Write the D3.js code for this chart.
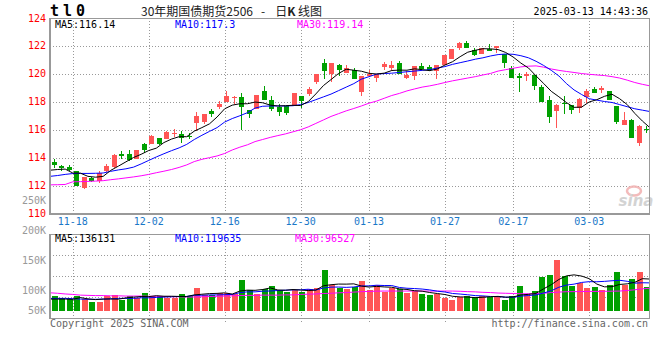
<!DOCTYPE html>
<html>
<head>
<meta charset="utf-8">
<script src="https://cdn.jsdelivr.net/npm/d3@7"></script>
<style>
  body { margin: 0; background: #fff; }
  svg text { font-family: "DejaVu Sans Mono", monospace; font-size: 10px; }
</style>
</head>
<body>
<div id="chart"></div>
<script>
// trading days shown on the chart
const dates = ["11-13","11-14","11-15","11-18","11-19","11-20","11-21","11-22","11-25","11-26",
  "11-27","11-28","11-29","12-02","12-03","12-04","12-05","12-06","12-09","12-10",
  "12-11","12-12","12-13","12-16","12-17","12-18","12-19","12-20","12-23","12-24",
  "12-25","12-26","12-27","12-30","12-31","01-02","01-03","01-06","01-07","01-08",
  "01-09","01-10","01-13","01-14","01-15","01-16","01-17","01-20","01-21","01-22",
  "01-23","01-24","01-27","02-05","02-06","02-07","02-10","02-11","02-12","02-13",
  "02-14","02-17","02-18","02-19","02-20","02-21","02-24","02-25","02-26","02-27",
  "02-28","03-03","03-04","03-05","03-06","03-07","03-10","03-11","03-12","03-13"];

const openPrices = [113.69,113.40,113.33,113.02,111.83,112.55,112.31,113.07,113.31,114.24,
  114.24,113.93,115.00,114.98,115.38,115.31,115.67,115.67,115.57,116.45,
  116.58,117.33,117.62,117.98,118.24,118.33,117.40,117.48,118.76,118.10,
  117.60,117.67,117.69,118.45,118.55,119.43,120.81,119.98,120.60,120.05,
  120.31,118.71,119.86,119.67,120.50,120.43,120.76,119.69,119.86,120.55,
  120.48,120.24,120.62,121.05,121.83,122.19,121.69,121.43,121.76,121.83,
  121.40,120.45,119.86,119.84,119.90,119.08,118.15,117.33,117.90,117.79,
  117.52,118.31,118.93,118.86,118.76,117.69,116.36,116.69,115.02,116.05];
const highPrices = [113.88,113.50,113.48,113.07,112.64,112.64,113.02,113.52,114.24,114.45,
  114.57,114.52,115.07,115.60,115.38,115.88,116.05,115.88,115.79,117.29,
  117.15,117.48,118.05,118.79,118.40,118.62,117.40,118.50,119.14,118.45,
  117.83,117.67,118.62,118.45,119.05,120.02,121.05,120.76,120.74,120.62,
  120.43,119.86,120.26,120.02,120.83,120.90,120.90,120.21,120.55,120.76,
  120.62,120.62,121.33,121.76,122.26,122.33,121.83,121.88,122.17,121.98,
  121.45,120.58,120.05,120.10,119.90,119.22,118.45,117.81,118.43,117.79,
  118.26,118.95,119.05,119.12,118.76,117.69,117.26,116.76,116.36,116.29];
const lowPrices = [113.26,113.07,113.05,111.95,111.79,112.26,112.19,112.98,113.26,113.88,
  113.79,113.88,114.36,114.98,114.88,115.31,115.48,115.05,115.31,115.93,
  116.42,116.93,117.45,117.98,117.83,116.00,116.86,117.45,118.10,117.31,
  117.00,117.07,117.69,117.55,118.40,119.26,119.64,119.45,119.86,120.05,
  119.64,118.40,119.74,119.43,120.31,120.21,120.02,119.62,119.57,120.31,
  120.21,119.62,120.62,121.05,121.69,121.83,121.26,121.43,121.67,121.50,
  120.40,119.72,118.68,119.46,118.86,118.02,116.50,116.10,117.14,117.10,
  117.17,117.93,118.62,118.62,118.14,116.40,116.36,115.38,114.81,115.74];
const closePrices = [113.45,113.24,113.14,112.00,112.62,112.31,112.93,113.43,114.17,114.12,
  113.83,114.52,114.55,115.52,114.98,115.83,115.79,115.40,115.48,117.00,
  117.10,117.12,117.86,118.43,118.31,117.60,117.10,118.48,118.14,117.50,
  117.29,117.19,118.62,118.07,118.90,120.02,120.19,120.76,120.29,120.40,
  119.64,119.86,120.02,120.02,120.69,120.62,120.02,119.93,120.55,120.38,
  120.26,120.62,121.33,121.76,122.19,121.83,121.36,121.88,121.67,121.98,
  120.75,119.72,119.71,120.02,119.10,118.02,116.90,117.74,117.81,117.40,
  118.17,118.76,118.62,119.00,118.14,116.57,116.69,115.43,116.26,115.98];

const ma5Prices = [113.10,113.15,113.18,112.90,112.89,112.66,112.60,112.66,113.09,113.39,
  113.70,114.01,114.24,114.51,114.68,115.08,115.33,115.50,115.50,115.90,
  116.15,116.42,116.91,117.50,117.76,117.86,117.86,117.98,117.93,117.76,
  117.70,117.72,117.75,117.73,118.01,118.56,119.16,119.59,120.03,120.33,
  120.26,120.19,120.04,119.99,120.05,120.24,120.27,120.26,120.36,120.30,
  120.23,120.35,120.63,120.87,121.23,121.55,121.69,121.80,121.79,121.74,
  121.53,121.20,120.77,120.42,119.85,119.31,118.75,118.36,117.94,117.60,
  117.62,117.99,118.15,118.39,118.54,118.22,117.80,117.17,116.62,116.14];
const ma10Prices = [112.66,112.72,112.80,112.86,112.87,112.87,112.88,112.90,113.02,113.12,
  113.20,113.32,113.55,113.80,114.05,114.28,114.50,114.70,114.95,115.30,
  115.60,115.88,116.15,116.55,116.80,117.00,117.22,117.55,117.68,117.70,
  117.70,117.70,117.72,117.80,117.95,118.15,118.35,118.55,118.80,119.05,
  119.30,119.62,119.80,119.98,120.02,120.05,120.10,120.15,120.20,120.25,
  120.30,120.42,120.52,120.68,120.80,120.92,121.05,121.15,121.28,121.38,
  121.42,121.40,121.30,121.15,120.90,120.60,120.25,119.85,119.30,118.85,
  118.52,118.22,118.12,118.02,117.95,117.80,117.65,117.50,117.40,117.30];
const ma30Prices = [112.05,112.06,112.08,112.27,112.28,112.30,112.32,112.35,112.42,112.48,
  112.55,112.62,112.70,112.80,112.92,113.03,113.15,113.30,113.48,113.72,
  113.88,114.00,114.12,114.30,114.55,114.75,114.92,115.15,115.30,115.45,
  115.58,115.70,115.85,116.00,116.20,116.45,116.70,116.95,117.15,117.35,
  117.52,117.70,117.90,118.05,118.25,118.45,118.60,118.78,118.92,119.05,
  119.14,119.25,119.38,119.50,119.60,119.70,119.80,119.92,120.03,120.20,
  120.30,120.40,120.50,120.55,120.57,120.48,120.35,120.25,120.17,120.10,
  120.02,119.97,119.92,119.88,119.80,119.70,119.55,119.38,119.25,119.14];

const volumes = [64500,53000,50000,64500,50000,37000,37000,61600,67300,44400,
  64500,53000,75900,64500,64500,53000,53000,71600,64500,97400,
  67300,67300,75900,75900,71600,131800,87400,71600,93100,106000,
  87400,81700,87400,81700,94600,97400,174800,110300,96000,93100,
  103200,127500,88800,110300,81700,96000,93100,75900,83100,71600,
  67300,71600,54400,45800,57300,64500,57300,64500,57300,64500,
  45800,64500,106000,71600,84500,144700,153300,217800,149000,106000,
  118900,97400,101700,88800,110300,166200,110300,136100,166200,101700];
const ma5Volumes = [50000,50000,50000,49000,56400,50900,47700,50000,50600,49500,
  55000,58200,61000,60500,64500,62200,62200,61300,61300,67900,
  70800,73600,74500,76800,71600,84500,88500,87700,91100,98000,
  89100,88000,91100,88800,86600,88600,107200,111800,114600,114300,
  115500,106000,101700,104600,102300,100900,94000,91400,86000,83900,
  78200,73900,69600,62100,59300,58700,55900,57900,60200,61600,
  57900,59300,67600,70500,74500,94300,112000,134400,149900,154200,
  149000,137800,114600,102600,103400,112900,115500,122300,137800,136131];
const ma10Volumes = [53000,53000,53000,52000,50000,49000,49000,50000,51000,52900,
  52900,52900,55500,55500,57000,58600,60200,61200,60900,66200,
  66500,67900,67900,69000,69800,77600,81100,81100,83900,84800,
  86800,88200,89400,90000,92300,88800,97600,101400,101700,100400,
  102000,106600,106700,109600,108300,108200,100000,96600,95300,93100,
  89500,83900,80500,74100,71600,68500,64900,63700,61200,60500,
  58300,57600,62800,65300,68100,76100,85700,101000,110200,114300,
  121600,124900,124500,126200,128800,130900,126600,118500,120200,119635];
const ma30Volumes = [77000,75000,72000,70000,67000,66000,65000,65000,64000,64000,
  63000,63000,63000,62000,62000,61000,60000,60000,59000,59000,
  60000,61000,62000,63000,64000,65000,66000,66000,67000,67000,
  67000,68000,68000,70000,71000,72000,74000,75000,77000,78000,
  80000,82000,83000,84000,84500,84500,84500,84500,84500,84500,
  84500,84500,84500,84500,83500,82000,81000,79000,78000,76000,
  75000,74000,73000,73000,73000,75000,78000,80000,81700,82000,
  82500,83000,83000,83500,84000,84500,87000,90000,94000,96527];

const priceTicks = [110, 112, 114, 116, 118, 120, 122, 124];
const volumeTicks = [50000, 100000, 150000, 200000, 250000];
const dateTicks = ["11-18","12-02","12-16","12-30","01-13","01-27","02-17","03-03"];

const width = 660, height = 360;
const left = 50, right = 650;
const mainTop = 18, mainBottom = 213.5;
const volTop = 234, volBottom = 318, volBase = 310.7;
const upColor = "#ff5555", downColor = "#00a000";

const svg = d3.select("#chart")
  .append("svg")
  .attr("width", width)
  .attr("height", height);

// candles sit in bands, lines and grid use points across the full width
const xBand = d3.scaleBand().domain(dates).range([left, right]);
const xPoint = d3.scalePoint().domain(dates).range([left, right]);
const y = d3.scaleLinear().domain([110, 124]).range([mainBottom, mainTop]);
const yVol = d3.scaleLinear().domain([0, 330000]).range([volBase, volTop]);
// sina puts the volume labels on its own spacing
const yVolLabel = d3.scaleLinear().domain([100000, 250000]).range([290.7, 200.7]);

const mid = (d) => Math.round(xBand(d) + xBand.bandwidth() / 2);

// grid
const grid = svg.append("g")
  .attr("stroke", "#999")
  .attr("stroke-dasharray", "1,2")
  .attr("shape-rendering", "crispEdges");

grid.selectAll(".hgrid")
  .data(priceTicks.slice(1, -1))
  .enter()
  .append("line")
  .attr("x1", left).attr("x2", right)
  .attr("y1", (d) => Math.round(y(d)) + 0.5)
  .attr("y2", (d) => Math.round(y(d)) + 0.5);

grid.selectAll(".vgrid")
  .data(dateTicks)
  .enter()
  .append("line")
  .attr("x1", (d) => Math.round(xPoint(d)) + 0.5)
  .attr("x2", (d) => Math.round(xPoint(d)) + 0.5)
  .attr("y1", mainTop).attr("y2", mainBottom);

grid.selectAll(".vhgrid")
  .data([1, 2, 3])
  .enter()
  .append("line")
  .attr("x1", left).attr("x2", right)
  .attr("y1", (k) => Math.round(volTop + k * (volBottom - volTop) / 4) + 0.5)
  .attr("y2", (k) => Math.round(volTop + k * (volBottom - volTop) / 4) + 0.5);

grid.selectAll(".vvgrid")
  .data(dateTicks)
  .enter()
  .append("line")
  .attr("x1", (d) => Math.round(xPoint(d)) + 0.5)
  .attr("x2", (d) => Math.round(xPoint(d)) + 0.5)
  .attr("y1", volTop).attr("y2", volBottom + 4);

// sina watermark
const logo = svg.append("g").attr("opacity", 0.9);
logo.append("ellipse")
  .attr("cx", 634).attr("cy", 191)
  .attr("rx", 7).attr("ry", 4.5)
  .attr("fill", "none")
  .attr("stroke", "#f2b4b4")
  .attr("stroke-width", 2.5);
logo.append("text")
  .text("sina")
  .attr("x", 636).attr("y", 206)
  .attr("text-anchor", "middle")
  .style("font-family", "'DejaVu Sans', sans-serif")
  .style("font-size", "15px")
  .style("font-style", "italic")
  .style("font-weight", "bold")
  .attr("fill", "#cfcfcf");

// candles
const candles = svg.append("g").attr("shape-rendering", "crispEdges");
const candle = candles.selectAll(".candle")
  .data(dates)
  .enter()
  .append("g")
  .attr("class", "candle");

const isUp = (i) => closePrices[i] >= openPrices[i];

candle.append("line")
  .attr("x1", (d) => mid(d) + 0.5)
  .attr("x2", (d) => mid(d) + 0.5)
  .attr("y1", (d, i) => y(highPrices[i]))
  .attr("y2", (d, i) => y(lowPrices[i]))
  .attr("stroke", (d, i) => isUp(i) ? upColor : downColor);

candle.append("rect")
  .attr("x", (d) => mid(d) - 2)
  .attr("width", 5)
  .attr("y", (d, i) => y(Math.max(openPrices[i], closePrices[i])))
  .attr("height", (d, i) => Math.max(1, Math.abs(y(openPrices[i]) - y(closePrices[i]))))
  .attr("fill", (d, i) => isUp(i) ? upColor : downColor);

// moving averages
const priceLine = d3.line()
  .x((v, i) => xPoint(dates[i]))
  .y((v) => y(v));

[[ma30Prices, "#ff00ff"], [ma10Prices, "#0000ff"], [ma5Prices, "#000"]].forEach(([values, color]) => {
  svg.append("path")
    .datum(values)
    .attr("d", priceLine)
    .attr("fill", "none")
    .attr("stroke", color)
    .attr("stroke-width", 1);
});

// volume bars
svg.append("g")
  .attr("shape-rendering", "crispEdges")
  .selectAll("rect")
  .data(volumes)
  .enter()
  .append("rect")
  .attr("x", (v, i) => mid(dates[i]) - 2.5)
  .attr("width", 6)
  .attr("y", (v) => yVol(v))
  .attr("height", (v) => yVol(0) - yVol(v))
  .attr("fill", (v, i) => isUp(i) ? upColor : downColor);

const volLine = d3.line()
  .x((v, i) => xPoint(dates[i]))
  .y((v) => yVol(v));

[[ma30Volumes, "#ff00ff"], [ma10Volumes, "#0000ff"], [ma5Volumes, "#000"]].forEach(([values, color]) => {
  svg.append("path")
    .datum(values)
    .attr("d", volLine)
    .attr("fill", "none")
    .attr("stroke", color)
    .attr("stroke-width", 1);
});

// frames
const frame = svg.append("g")
  .attr("fill", "none")
  .attr("stroke", "#999")
  .attr("shape-rendering", "crispEdges");
frame.append("rect")
  .attr("x", left + 0.5).attr("y", mainTop + 0.5)
  .attr("width", right - left - 1).attr("height", mainBottom - mainTop);
frame.append("rect")
  .attr("x", left + 0.5).attr("y", volTop + 0.5)
  .attr("width", right - left - 1).attr("height", volBottom - volTop);
frame.append("line")
  .attr("x1", left).attr("x2", left)
  .attr("y1", mainTop).attr("y2", mainBottom + 1)
  .attr("stroke-width", 2);
frame.append("line")
  .attr("x1", left).attr("x2", right)
  .attr("y1", mainBottom + 0.5).attr("y2", mainBottom + 0.5)
  .attr("stroke-width", 2);
frame.append("line")
  .attr("x1", left).attr("x2", left)
  .attr("y1", volTop).attr("y2", volBottom + 1)
  .attr("stroke-width", 2);

// axis labels
svg.selectAll(".price-label")
  .data(priceTicks)
  .enter()
  .append("text")
  .text((d) => d)
  .attr("x", 46)
  .attr("y", (d) => y(d))
  .attr("dy", "0.35em")
  .attr("text-anchor", "end")
  .attr("fill", "#ff0000");

svg.selectAll(".vol-label")
  .data(volumeTicks)
  .enter()
  .append("text")
  .text((d) => d / 1000 + "K")
  .attr("x", 46)
  .attr("y", (d) => Math.min(yVolLabel(d), volBase))
  .attr("dy", "0.35em")
  .attr("text-anchor", "end")
  .attr("fill", "#999");

svg.selectAll(".date-label")
  .data(dateTicks)
  .enter()
  .append("text")
  .text((d) => d)
  .attr("x", (d) => xPoint(d))
  .attr("y", 224.5)
  .attr("text-anchor", "middle")
  .attr("fill", "#1a78c8");

// legends
const last = (arr) => arr[arr.length - 1];
svg.append("text").text("MA5:" + last(ma5Prices)).attr("x", 55).attr("y", 27.5).attr("fill", "#000");
svg.append("text").text("MA10:" + last(ma10Prices)).attr("x", 175).attr("y", 27.5).attr("fill", "#0000ff");
svg.append("text").text("MA30:" + last(ma30Prices)).attr("x", 297).attr("y", 27.5).attr("fill", "#ff00ff");

svg.append("text").text("MA5:" + last(ma5Volumes)).attr("x", 55).attr("y", 242).attr("fill", "#000");
svg.append("text").text("MA10:" + last(ma10Volumes)).attr("x", 175).attr("y", 242).attr("fill", "#0000ff");
svg.append("text").text("MA30:" + last(ma30Volumes)).attr("x", 295).attr("y", 242).attr("fill", "#ff00ff");

// header
svg.append("text")
  .text("tl0")
  .attr("x", 50).attr("y", 16)
  .style("font-size", "15px")
  .style("font-weight", "bold")
  .style("letter-spacing", "4px")
  .attr("fill", "#000");

const title = svg.append("text")
  .attr("x", 141).attr("y", 15.5)
  .style("font-family", "'Noto Sans CJK SC', sans-serif")
  .style("font-size", "12px")
  .attr("fill", "#222");
title.append("tspan").text("30年期国债期货2506");
title.append("tspan").text("-").attr("dx", 8);
title.append("tspan").text("日").attr("dx", 10);
title.append("tspan").text("K").style("font-weight", "bold");
title.append("tspan").text(" 线图");

svg.append("text")
  .text("2025-03-13 14:43:36")
  .attr("x", 648).attr("y", 15)
  .attr("text-anchor", "end")
  .attr("fill", "#000");

// footer
svg.append("text")
  .text("Copyright 2025 SINA.COM")
  .attr("x", 50).attr("y", 327)
  .attr("fill", "#666");
svg.append("text")
  .text("http://finance.sina.com.cn")
  .attr("x", 648).attr("y", 327)
  .attr("text-anchor", "end")
  .attr("fill", "#666");
</script>
</body>
</html>
